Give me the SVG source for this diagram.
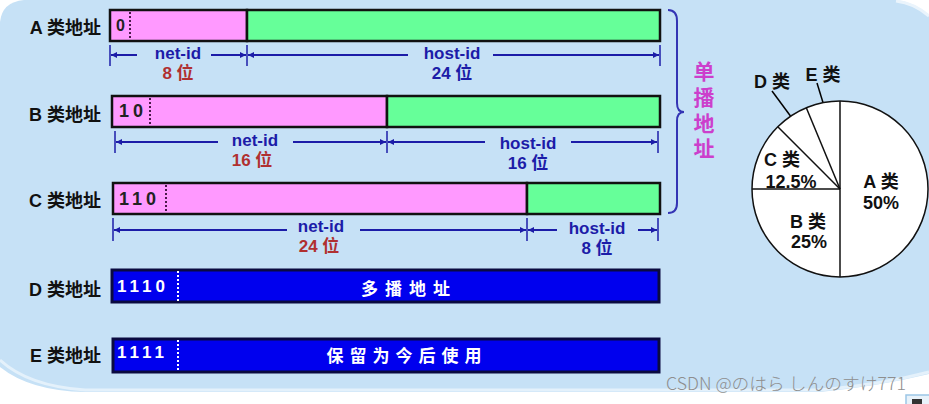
<svg xmlns="http://www.w3.org/2000/svg" width="929" height="404" viewBox="0 0 929 404">
<defs>
<marker id="ah" viewBox="0 0 10 10" refX="10" refY="5" markerWidth="9" markerHeight="6" markerUnits="userSpaceOnUse" orient="auto"><path d="M0,0 L10,5 L0,10 z" fill="#1c1ca8"/></marker>
<marker id="ahk" viewBox="0 0 10 10" refX="10" refY="5" markerWidth="11" markerHeight="9" markerUnits="userSpaceOnUse" orient="auto"><path d="M0,0 L10,5 L0,10 z" fill="#000"/></marker>
</defs>
<style>
.lbl{font-family:"Liberation Sans","Noto Sans CJK SC",sans-serif;font-weight:bold;font-size:18px;fill:#111;text-anchor:end}
.dig{font-family:"Liberation Sans",sans-serif;font-weight:bold;font-size:18px;fill:#222}
.wdig{font-family:"Liberation Sans",sans-serif;font-weight:bold;font-size:17px;fill:#fff;letter-spacing:4px}
.bar{stroke:#111;stroke-width:2.5}
.pink{fill:#ff99ff}
.green{fill:#66ff99}
.blue{fill:#0000ee;stroke:#0a0a40;stroke-width:3}
.dot{stroke:#4a1a4a;stroke-width:2;stroke-dasharray:2,2}
.wdot{stroke:#fff;stroke-width:2;stroke-dasharray:2,2}
.dim{font-family:"Liberation Sans","Noto Sans CJK SC",sans-serif;font-weight:bold;font-size:17px;fill:#1c1ca8;text-anchor:middle}
.red{fill:#b03030}
.dl{stroke:#1c1ca8;stroke-width:2;fill:none}
.tk{stroke:#1c1ca8;stroke-width:1.5}
.wt{font-family:"Liberation Sans","Noto Sans CJK SC",sans-serif;font-weight:bold;font-size:17px;fill:#fff;text-anchor:middle}
.pie{font-family:"Liberation Sans","Noto Sans CJK SC",sans-serif;font-weight:bold;font-size:18px;fill:#111;text-anchor:middle}
.uni{font-family:"Liberation Sans","Noto Sans CJK SC",sans-serif;font-weight:bold;font-size:21px;fill:#cc3fcc;text-anchor:middle}
</style>
<rect width="929" height="404" fill="#ffffff"/>
<path d="M24,0 H896 Q914,2 929,15 V374 Q880,386 820,392 H85 Q30,391 0,367 V22 Q2,2 24,0 Z" fill="#c6e1f6"/>
<path d="M0,360 Q28,386 85,390 H820 Q880,385 929,372" fill="none" stroke="#e4f1fb" stroke-width="3"/>
<path d="M896,1 Q914,3 929,16" fill="none" stroke="#eaf4fc" stroke-width="3"/>

<g id="classA">
<text class="lbl" x="101" y="34">A 类地址</text>
<rect class="bar pink" x="110" y="10" width="137" height="31"/>
<rect class="bar green" x="247" y="10" width="413" height="31"/>
<line class="dot" x1="130" y1="12" x2="130" y2="40"/>
<text class="dig" x="116" y="31" style="font-size:16px">0</text>
</g>
<g id="classB">
<text class="lbl" x="101" y="121">B 类地址</text>
<rect class="bar pink" x="112" y="96" width="275" height="31"/>
<rect class="bar green" x="387" y="96" width="273" height="31"/>
<line class="dot" x1="150" y1="98" x2="150" y2="126"/>
<text class="dig" x="119" y="117" style="letter-spacing:4px">10</text>
</g>
<g id="classC">
<text class="lbl" x="101" y="207">C 类地址</text>
<rect class="bar pink" x="113" y="183" width="414" height="31"/>
<rect class="bar green" x="527" y="183" width="133" height="31"/>
<line class="dot" x1="166" y1="185" x2="166" y2="213"/>
<text class="dig" x="119" y="205" style="letter-spacing:4px">110</text>
</g>
<g id="classD">
<text class="lbl" x="101" y="296">D 类地址</text>
<rect class="blue" x="112" y="270" width="547" height="32"/>
<line class="wdot" x1="178" y1="271" x2="178" y2="301"/>
<text class="wdig" x="117" y="292">1110</text>
<text class="wt" x="409" y="295" style="letter-spacing:7px">多播地址</text>
</g>
<g id="classE">
<text class="lbl" x="101" y="362">E 类地址</text>
<rect class="blue" x="113" y="339" width="546" height="33"/>
<line class="wdot" x1="178" y1="340" x2="178" y2="371"/>
<text class="wdig" x="117" y="358">1111</text>
<text class="wt" x="407" y="362" style="letter-spacing:6px">保留为今后使用</text>
</g>

<g id="dims-text">
<text class="dim" x="178" y="59">net-id</text>
<text class="dim red" x="178" y="79">8 位</text>
<text class="dim" x="452" y="59">host-id</text>
<text class="dim" x="452" y="79">24 位</text>
<text class="dim" x="255" y="146">net-id</text>
<text class="dim red" x="252" y="166">16 位</text>
<text class="dim" x="528" y="149">host-id</text>
<text class="dim" x="528" y="169">16 位</text>
<text class="dim" x="321" y="232">net-id</text>
<text class="dim red" x="319" y="252">24 位</text>
<text class="dim" x="597" y="234">host-id</text>
<text class="dim" x="597" y="254">8 位</text>
</g>

<g id="connectors">
<line class="tk" x1="110" y1="45" x2="110" y2="66"/>
<line class="tk" x1="247" y1="45" x2="247" y2="66"/>
<line class="tk" x1="660" y1="45" x2="660" y2="66"/>
<line class="dl" x1="137" y1="55" x2="111" y2="55" marker-end="url(#ah)"/>
<line class="dl" x1="211" y1="55" x2="246" y2="55" marker-end="url(#ah)"/>
<line class="dl" x1="408" y1="55" x2="248" y2="55" marker-end="url(#ah)"/>
<line class="dl" x1="493" y1="55" x2="659" y2="55" marker-end="url(#ah)"/>

<line class="tk" x1="115" y1="131" x2="115" y2="153"/>
<line class="tk" x1="387" y1="131" x2="387" y2="153"/>
<line class="tk" x1="658" y1="131" x2="658" y2="153"/>
<line class="dl" x1="218" y1="142" x2="116" y2="142" marker-end="url(#ah)"/>
<line class="dl" x1="293" y1="142" x2="386" y2="142" marker-end="url(#ah)"/>
<line class="dl" x1="485" y1="142" x2="388" y2="142" marker-end="url(#ah)"/>
<line class="dl" x1="571" y1="142" x2="657" y2="142" marker-end="url(#ah)"/>

<line class="tk" x1="113" y1="218" x2="113" y2="241"/>
<line class="tk" x1="527" y1="218" x2="527" y2="241"/>
<line class="tk" x1="658" y1="218" x2="658" y2="241"/>
<line class="dl" x1="287" y1="230" x2="114" y2="230" marker-end="url(#ah)"/>
<line class="dl" x1="360" y1="230" x2="526" y2="230" marker-end="url(#ah)"/>
<line class="dl" x1="557" y1="230" x2="528" y2="230" marker-end="url(#ah)"/>
<line class="dl" x1="638" y1="230" x2="657" y2="230" marker-end="url(#ah)"/>

<path d="M668,10 Q677,10 677,21 V103 Q677,112 684,112 Q677,112 677,121 V203 Q677,213 668,213" fill="none" stroke="#3434b4" stroke-width="2"/>

<line x1="772" y1="91" x2="803" y2="133" stroke="#000" stroke-width="1.5" marker-end="url(#ahk)"/>
<line x1="817" y1="83" x2="832" y2="132" stroke="#000" stroke-width="1.5" marker-end="url(#ahk)"/>
</g>

<g id="unicast">
<text class="uni" x="704" y="79">单</text>
<text class="uni" x="704" y="105">播</text>
<text class="uni" x="704" y="131">地</text>
<text class="uni" x="704" y="156">址</text>
</g>

<g id="pie">
<circle cx="840" cy="189" r="88" fill="#fff" stroke="#111" stroke-width="1.5"/>
<line x1="840" y1="101" x2="840" y2="277" stroke="#111" stroke-width="1.5"/>
<line x1="752" y1="189" x2="840" y2="189" stroke="#111" stroke-width="1.5"/>
<line x1="840" y1="189" x2="777.8" y2="126.8" stroke="#111" stroke-width="1.5"/>
<line x1="840" y1="189" x2="806.3" y2="107.7" stroke="#111" stroke-width="1.5"/>
<text class="pie" x="881" y="188">A 类</text>
<text class="pie" x="881" y="209">50%</text>
<text class="pie" x="808" y="228">B 类</text>
<text class="pie" x="809" y="248">25%</text>
<text class="pie" x="782" y="166">C 类</text>
<text class="pie" x="791" y="188">12.5%</text>
<text class="pie" x="772" y="88">D 类</text>
<text class="pie" x="823" y="81">E 类</text>
</g>

<text x="666" y="390" font-family="'Noto Sans CJK JP',sans-serif" font-size="17" font-weight="300" fill="#8e8e8e" textLength="240" lengthAdjust="spacingAndGlyphs">CSDN @のはら しんのすけ771</text>
<rect x="906" y="395" width="24" height="10" fill="#e8f2fa" stroke="#9cc6e6" stroke-width="1.5"/>
<rect x="912" y="399" width="10" height="6" fill="#333"/>
</svg>
